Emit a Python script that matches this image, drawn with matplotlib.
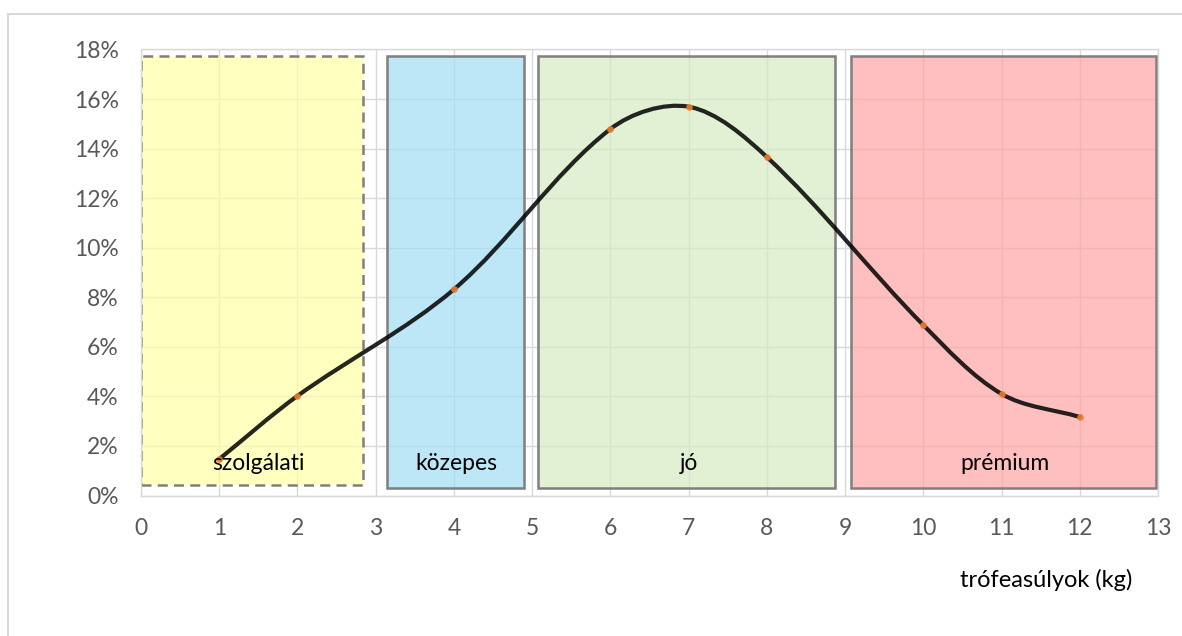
import numpy as np
import matplotlib
matplotlib.use('Agg')
import matplotlib.pyplot as plt
from matplotlib.patches import Rectangle, PathPatch
from matplotlib.path import Path
from matplotlib.colors import to_rgba
from matplotlib.lines import Line2D
from matplotlib.ticker import FuncFormatter

plt.rcParams['font.family'] = ['Lato', 'DejaVu Sans']

# trophy weights (kg) and share of trophies
weights = [1, 2, 4, 6, 7, 8, 10, 11, 12]
shares = [1.47, 4.02, 8.32, 14.79, 15.69, 13.66, 6.88, 4.1, 3.17]

# quality bands: label, start, end, bottom, top (percent), colour, dashed border
band_names = ['szolgálati', 'közepes', 'jó', 'prémium']
band_start = [0.0, 3.15, 5.08, 9.08]
band_end = [2.84, 4.9, 8.87, 12.97]
band_bottom = [0.42, 0.3, 0.3, 0.3]
band_top = [17.74, 17.74, 17.74, 17.74]
band_colors = ['#FFFFA5', '#A2DEF5', '#D6EAC2', '#FFA4A4']
band_dashed = [True, False, False, False]
band_label_x = [1.5, 4.03, 7.0, 11.05]
band_label_y = 1.3

xticks = list(range(0, 14))
yticks = list(range(0, 20, 2))


def smooth_path(ax, xs, ys):
    # bezier segments through the points, tangents weighted by segment length
    # in screen space (close to how Excel smooths a line)
    pts = ax.transData.transform(np.column_stack([xs, ys]))
    n = len(pts)
    seg = [np.hypot(*(pts[i + 1] - pts[i])) for i in range(n - 1)]
    verts = [pts[0]]
    codes = [Path.MOVETO]
    for i in range(n - 1):
        p1 = pts[i]
        p2 = pts[i + 1]
        if i > 0:
            w = seg[i] / (seg[i - 1] + seg[i])
            c1 = p1 + (p2 - pts[i - 1]) * w / 3.0
        else:
            c1 = p1 + (p2 - p1) / 3.0
        if i + 2 < n:
            w = seg[i] / (seg[i] + seg[i + 1])
            c2 = p2 - (pts[i + 2] - p1) * w / 3.0
        else:
            c2 = p2 - (p2 - p1) / 3.0
        verts += [c1, c2, p2]
        codes += [Path.CURVE4] * 3
    verts = ax.transData.inverted().transform(np.array(verts))
    return Path(verts, codes)


fig = plt.figure(figsize=(11.82, 6.36), dpi=100)
ax = fig.add_axes([0.1193, 0.2209, 0.8604, 0.7013])

ax.set_xlim(0, 13)
ax.set_ylim(0, 18)
ax.set_xticks(xticks)
ax.set_yticks(yticks)
ax.yaxis.set_major_formatter(FuncFormatter(lambda v, p: '%d%%' % v))
ax.grid(True, color='#D9D9D9', linewidth=1.0, zorder=0)
ax.set_axisbelow(True)
for s in ax.spines.values():
    s.set_color('#D9D9D9')
    s.set_linewidth(1.0)
ax.tick_params(length=0, labelsize=16.5, labelcolor='#595959')
ax.tick_params(axis='x', pad=16)
ax.tick_params(axis='y', pad=16)

for i in range(len(band_names)):
    rect = Rectangle((band_start[i], band_bottom[i]),
                     band_end[i] - band_start[i], band_top[i] - band_bottom[i],
                     facecolor=to_rgba(band_colors[i], 0.7), edgecolor='#7F7F7F',
                     linewidth=1.8, linestyle=(0, (4, 2.5)) if band_dashed[i] else '-',
                     zorder=1)
    ax.add_patch(rect)
    ax.text(band_label_x[i], band_label_y, band_names[i], ha='center', va='center',
            fontsize=16.5, color='black', zorder=4)

curve = PathPatch(smooth_path(ax, weights, shares), facecolor='none',
                  edgecolor=(0, 0, 0, 0.85), linewidth=3.0, capstyle='round', zorder=2)
ax.add_patch(curve)
ax.plot(weights, shares, linestyle='none', marker='o', markersize=4.8,
        markerfacecolor='#ED7D31', markeredgecolor='none', alpha=0.9, zorder=3)

fig.text(0.958, 0.088, 'trófeasúlyok (kg)', ha='right', va='center',
         fontsize=17, color='#000000')

# outer chart frame (top and left edges only are in view)
fig.add_artist(Line2D([8 / 1182, 1], [1 - 14 / 636, 1 - 14 / 636],
                      transform=fig.transFigure, color='#D9D9D9', linewidth=1.5))
fig.add_artist(Line2D([8 / 1182, 8 / 1182], [0, 1 - 14 / 636],
                      transform=fig.transFigure, color='#D9D9D9', linewidth=1.5))

fig.savefig('out.png', dpi=100)
